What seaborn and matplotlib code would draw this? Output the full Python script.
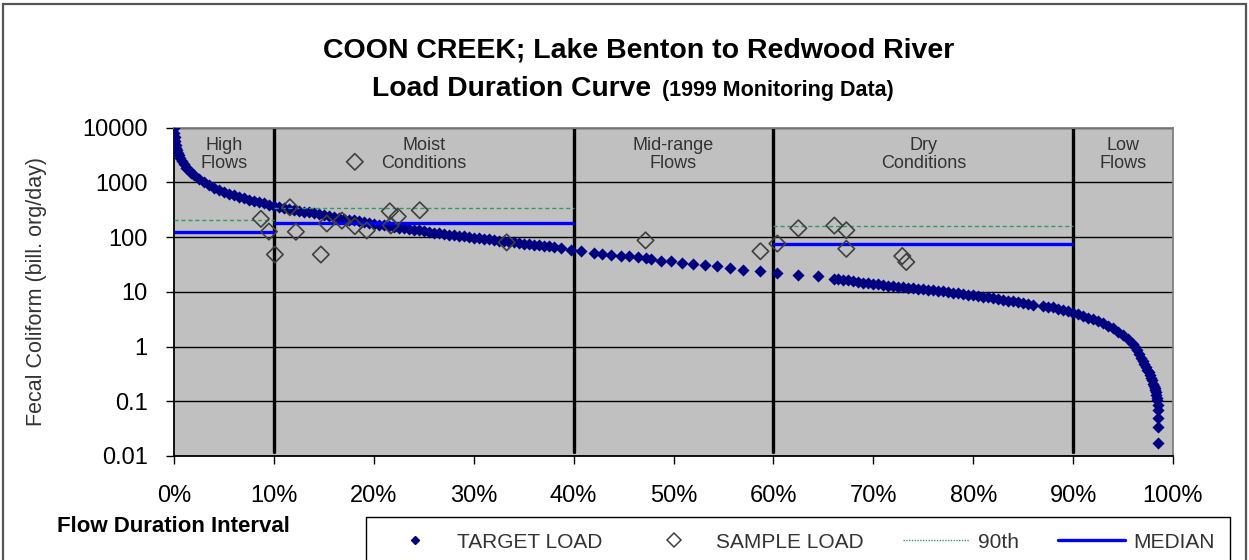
import matplotlib
matplotlib.use("Agg")
import matplotlib.pyplot as plt
from matplotlib.ticker import FixedLocator, FuncFormatter, NullLocator
from matplotlib.patches import Rectangle
from matplotlib.lines import Line2D
import pandas as pd
import seaborn as sns

# Target load duration curve: flow duration interval (%) and load (bill. org/day)
target_pct = [
    0.0, 0.05, 0.1, 0.15, 0.2, 0.25, 0.3, 0.4, 0.5, 0.65, 0.8, 1.0, 1.25, 1.5,
    1.75, 2.0, 2.5, 3.0, 3.5, 4.0, 4.5, 5.0,
    5.5, 6.0, 6.5, 7.0, 7.5, 8.0, 8.5, 9.0, 9.5, 10.0, 10.5, 11.0, 11.5, 12.0,
    12.5, 13.0, 13.5, 14.0, 14.5, 15.0, 15.5, 16.0, 16.5, 17.0, 17.5, 18.0,
    18.5, 19.0, 19.5, 20.0, 20.5, 21.0, 21.5, 22.0, 22.5, 23.0, 23.5, 24.0,
    24.5, 25.0, 25.5, 26.0, 26.5, 27.0, 27.5, 28.0, 28.5, 29.0, 29.5, 30.0,
    30.5, 31.0, 31.5, 32.0, 32.5, 33.0, 33.5, 34.0, 34.5, 35.0, 35.5, 36.0,
    36.5, 37.0, 37.5, 38.0, 38.7,
    39.7, 40.7, 42.0, 42.8, 43.7, 44.7, 45.5, 46.4, 47.2, 47.7, 48.7, 49.7,
    50.9, 52.0, 53.2, 54.4, 55.7, 57.0, 58.7, 60.4, 62.5, 64.5,
    66.1, 66.5, 67.0, 67.5, 68.0, 68.5, 69.0, 69.5, 70.0, 70.5, 71.0, 71.5,
    72.0, 72.5, 73.0, 73.5, 74.0, 74.5, 75.0, 75.5, 76.0, 76.5, 77.0, 77.5,
    78.0, 78.5, 79.0, 79.5, 80.0, 80.5, 81.0, 81.5, 82.0, 82.5, 83.0, 83.5,
    84.0, 84.5, 85.0, 85.5, 86.0, 87.0, 87.5, 88.0, 88.5, 89.0, 89.5, 90.0,
    90.5, 91.0, 91.5, 92.0, 92.5, 93.0, 93.5, 94.0, 94.5, 95.0, 95.5, 96.0,
    96.2, 96.4, 96.6, 96.8, 97.0, 97.1, 97.25, 97.4, 97.55, 97.7, 97.8, 97.9,
    98.0, 98.1, 98.15, 98.2, 98.25, 98.3, 98.35, 98.4, 98.45, 98.5,
    98.5, 98.5, 98.5,
]
target_load = [
    9800, 8000, 6700, 5600, 4900, 4300, 3900, 3400, 3100, 2750, 2500, 2150,
    1850, 1650, 1480, 1350, 1150, 1000, 890, 800, 730, 670,
    625, 585, 550, 515, 485, 460, 435, 412, 393, 375, 358, 344, 331,
    318, 305, 293, 282, 271, 261, 251, 242, 233, 225, 217, 209, 201, 194, 187,
    181, 175, 169, 164, 159, 154, 149, 145, 140, 136, 132, 128, 124, 121, 118,
    114, 111, 108, 106, 103, 100, 97.5, 95, 92.5, 90.5, 88, 86, 84, 82, 80, 78,
    76, 74, 72.5, 71, 69, 67.5, 66, 63.5,
    59, 55, 51.4, 50, 47.9, 45.9, 44.6, 43.5, 41.7, 39.9, 37.2, 36.1,
    33.7, 32.8, 31, 29.2, 27.3, 25.5, 23.7, 22.4, 20.6, 19.2,
    17.2, 16.9, 16.5, 16.1, 15.6, 15.1, 14.6, 14.2, 13.9, 13.6, 13.3, 13.0,
    12.7, 12.4, 12.1, 11.8, 11.6, 11.3, 11.1, 10.8, 10.6, 10.4, 10.2, 10.0,
    9.7, 9.4, 9.2, 8.9, 8.6, 8.4, 8.1, 7.9, 7.6, 7.4, 7.1, 6.9,
    6.7, 6.4, 6.2, 6.0, 5.8, 5.5, 5.35, 5.2, 4.95, 4.7, 4.4, 4.1,
    3.85, 3.6, 3.35, 3.15, 2.9, 2.65, 2.4, 2.15, 1.85, 1.6, 1.35, 1.1,
    0.97, 0.85, 0.73, 0.62, 0.54, 0.48, 0.43, 0.38, 0.34, 0.30, 0.27, 0.24,
    0.21, 0.19, 0.175, 0.16, 0.145, 0.13, 0.117, 0.105, 0.085, 0.068,
    0.05, 0.034, 0.0173,
]

# Monitored sample loads (1999)
sample_pct = [8.7, 9.5, 10.1, 11.6, 12.2, 14.7, 15.3, 16.8, 18.1, 18.1, 19.3,
              21.6, 21.7, 22.4, 24.6, 33.3, 47.2, 58.7, 60.4, 62.5, 66.1, 67.3,
              67.3, 72.9, 73.3]
sample_load = [215, 126, 48, 350, 125, 48, 177, 200, 2370, 158, 132,
               295, 163, 237, 309, 80, 87, 55, 76, 145, 162, 133,
               61, 45, 35]

# Flow regimes and per-regime sample statistics
region_edges = [0, 10, 40, 60, 90, 100]
region_names = ["High\nFlows", "Moist\nConditions", "Mid-range\nFlows",
                "Dry\nConditions", "Low\nFlows"]
p90_load = [209, 346, None, 156, None]
median_load = [126, 178, None, 76, None]

y_ticks = [0.01, 0.1, 1, 10, 100, 1000, 10000]
x_ticks = [0, 10, 20, 30, 40, 50, 60, 70, 80, 90, 100]

NAVY = "#000080"
GRAY_EDGE = "#404040"
GREEN = "#339966"
BLUE = "#0000FF"
TEXT = "#333333"

sns.set_theme(style="white")
plt.rcParams["font.family"] = ["Liberation Sans", "DejaVu Sans"]

W, H = 1249, 560
fig = plt.figure(figsize=(W / 100, H / 100), dpi=100)
fig.patch.set_facecolor("white")

# outer chart border
fig.patches.append(Rectangle((3 / W, -0.05), (1246 - 3) / W, 1.05 - 4 / H,
                             transform=fig.transFigure, fill=False,
                             edgecolor="#555555", linewidth=1.6, zorder=0))

ax = fig.add_axes([174 / W, 1 - 456 / H, 999 / W, (456 - 127.6) / H])
ax.set_facecolor("#C0C0C0")

target_df = pd.DataFrame({"pct": target_pct, "load": target_load})
sample_df = pd.DataFrame({"pct": sample_pct, "load": sample_load})

sns.scatterplot(data=target_df, x="pct", y="load", ax=ax, marker="D",
                color=NAVY, s=38, linewidth=0, zorder=3, legend=False)

for i in range(len(region_names)):
    x0, x1 = region_edges[i], region_edges[i + 1]
    if p90_load[i] is not None:
        ax.hlines(p90_load[i], x0, x1, colors=GREEN, linestyles=(0, (3, 2)),
                  linewidth=1.0, zorder=4)
    if median_load[i] is not None:
        ax.hlines(median_load[i], x0, x1, colors=BLUE, linewidth=2.4, zorder=4)

sns.scatterplot(data=sample_df, x="pct", y="load", ax=ax, marker="D",
                facecolor="none", edgecolor=GRAY_EDGE, s=70, linewidth=1.2,
                zorder=5, legend=False)

ax.set_yscale("log")
ax.set_ylim(0.01, 10000)
ax.set_xlim(0, 100)

# regime boundaries and labels
for edge in region_edges[1:-1]:
    ax.axvline(edge, ymin=0.012, ymax=1, color="black", linewidth=2.4, zorder=2)
for i, name in enumerate(region_names):
    xc = (region_edges[i] + region_edges[i + 1]) / 2
    ax.text(xc, 0.972, name, transform=ax.get_xaxis_transform(), ha="center",
            va="top", fontsize=13, color=TEXT, linespacing=1.12, zorder=6)

ax.yaxis.set_major_locator(FixedLocator(y_ticks))
ax.yaxis.set_minor_locator(NullLocator())
ax.yaxis.set_major_formatter(FuncFormatter(lambda v, _: f"{v:g}"))
ax.xaxis.set_major_locator(FixedLocator(x_ticks))
ax.xaxis.set_major_formatter(FuncFormatter(lambda v, _: f"{v:.0f}%"))

ax.grid(axis="y", color="black", linewidth=1.0)
ax.grid(axis="x", visible=False)
ax.set_axisbelow(True)

for side in ("left", "bottom"):
    ax.spines[side].set_color("black")
    ax.spines[side].set_linewidth(1.3)
for side in ("top", "right"):
    ax.spines[side].set_color("#808080")
    ax.spines[side].set_linewidth(1.3)

ax.tick_params(axis="y", which="major", direction="out", length=6, width=1,
               color="black", pad=13, labelsize=17, labelcolor="black", left=True)
ax.tick_params(axis="x", which="major", direction="out", length=6, width=1,
               color="black", pad=15, labelsize=17, labelcolor="black", bottom=True)

ax.set_xlabel("")
ax.set_ylabel("Fecal Coliform (bill. org/day)", fontsize=15.5, color=TEXT)
ax.yaxis.set_label_coords(-127 / 999, 0.5)

# titles
fig.text(639 / W, 1 - 58 / H, "COON CREEK; Lake Benton to Redwood River",
         ha="center", va="baseline", fontsize=20.5, fontweight="bold", color="black")
fig.text(372 / W, 1 - 96 / H, "Load Duration Curve", ha="left", va="baseline",
         fontsize=20.3, fontweight="bold", color="black")
fig.text(662 / W, 1 - 96 / H, "(1999 Monitoring Data)", ha="left",
         va="baseline", fontsize=15.5, fontweight="bold", color="black")

fig.text(57 / W, 1 - 527 / H, "Flow Duration Interval", ha="left",
         va="center", fontsize=16, fontweight="bold", color="black")

handles = [
    Line2D([], [], marker="D", color=NAVY, linestyle="none", markersize=4),
    Line2D([], [], marker="D", markerfacecolor="none", markeredgecolor=GRAY_EDGE,
           linestyle="none", markersize=7, markeredgewidth=1.1),
    Line2D([], [], color=GREEN, linestyle=(0, (1, 1)), linewidth=1.0),
    Line2D([], [], color=BLUE, linewidth=2.4),
]
labels = ["TARGET LOAD", "SAMPLE LOAD", "90th", "MEDIAN"]
leg = fig.legend(handles, labels, loc="upper left", ncol=4,
                 bbox_to_anchor=(366 / W, 0, 864 / W, 1 - 517 / H),
                 mode="expand", frameon=True, fancybox=False, shadow=False,
                 fontsize=15, handlelength=3.2, handletextpad=0.4,
                 borderpad=0.75, borderaxespad=0)
leg.get_frame().set_edgecolor("black")
leg.get_frame().set_linewidth(1.0)
leg.get_frame().set_facecolor("white")
leg.get_frame().set_alpha(1)
for t in leg.get_texts():
    t.set_color(TEXT)

fig.savefig("out.png", dpi=100)
